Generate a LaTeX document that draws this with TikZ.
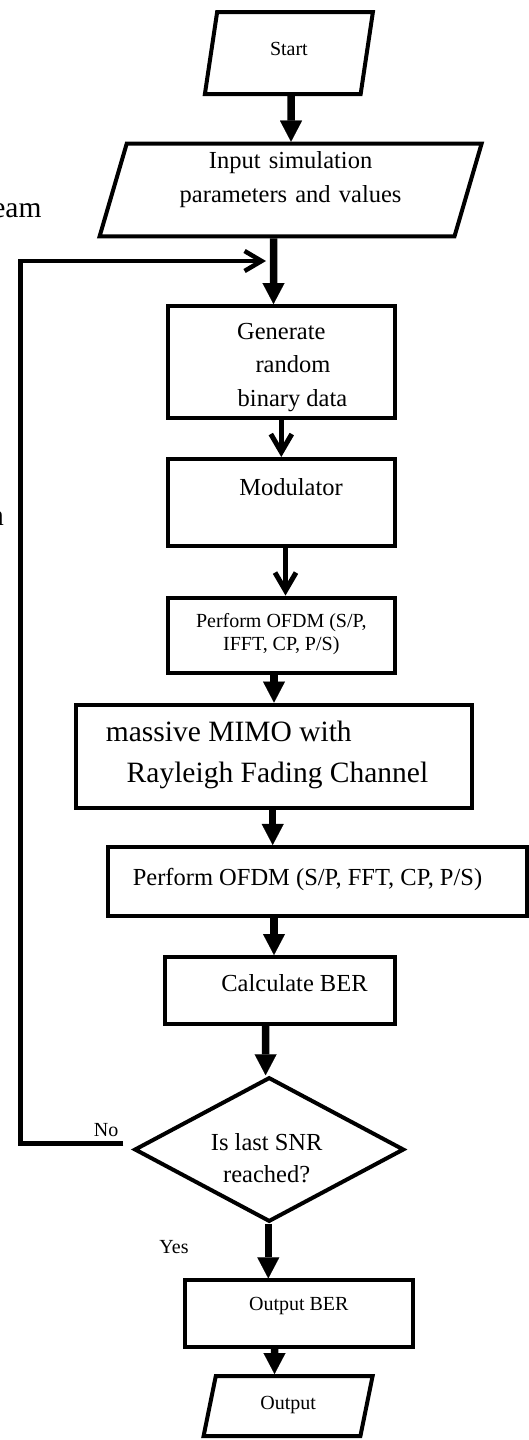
\documentclass[tikz,border=0pt]{standalone}
\usepackage{fontspec}
\setmainfont{Liberation Serif}
\usetikzlibrary{shapes.geometric, arrows.meta}

\tikzset{
  box/.style={draw, rectangle, line width=4pt, inner sep=0pt},
  io/.style={draw, trapezium, line width=4pt, inner sep=0pt, align=center},
  test/.style={draw, diamond, aspect=1.9, line width=4pt, inner sep=0pt},
  lift/.style={text height=0pt, text depth=#1},
  drop/.style={text height=#1, text depth=0pt},
  flow/.style={line width=7.5pt, -{Triangle[length=21pt, width=22pt, line width=0.1pt]}},
  barb/.style={line width=5pt, -{Straight Barb[length=18pt, width=21pt]}},
  loopline/.style={line width=4.5pt, -{Straight Barb[length=17pt, width=20pt]}},
  lbl/.style={inner sep=0pt, font=\fontsize{20}{24}\selectfont},
  frag/.style={inner sep=0pt, font=\fontsize{29.5}{36}\selectfont}
}

\begin{document}
\begin{tikzpicture}[x=1pt, y=-1pt, line join=miter]

    \useasboundingbox (0,0) rectangle (529,1440);

    % --- 1. input / output blocks (size set by the text box) ---
    \node[io, trapezium left angle=81.5, trapezium right angle=98.5, text width=143.5pt,
          text height=43.7pt, text depth=38.3pt, font=\fontsize{20}{24}\selectfont] (start) at (288.9,53) {Start};
    \node[io, trapezium left angle=73.7, trapezium right angle=106.3, text width=327.8pt,
          text height=24.6pt, text depth=68pt, font=\fontsize{24.5}{34}\selectfont] (input) at (290.6,190)
          {Input simulation\\parameters and values};

    % --- 2. processing chain ---
    \node[box, minimum width=226.7pt, minimum height=111.5pt, drop=88.4pt, align=center,
          font=\fontsize{24.5}{33.3}\selectfont] (gen) at (281.3,361.8)
          {Generate\\\hspace*{23.4pt}random\\\hspace*{22.4pt}binary data};
    \node[box, minimum width=226.7pt, minimum height=87pt, lift=13.6pt,
          font=\fontsize{24.5}{30}\selectfont] (mod) at (281.3,502.5) {\hspace*{19.4pt}Modulator};
    \node[box, minimum width=226.7pt, minimum height=75.5pt, drop=30.8pt, align=center,
          font=\fontsize{20}{23.4}\selectfont] (ofdm1) at (281.3,635.3) {Perform OFDM (S/P,\\IFFT, CP, P/S)};
    \node[box, minimum width=396pt, minimum height=103.5pt, drop=52.8pt, align=center,
          font=\fontsize{29.5}{41}\selectfont] (mimo) at (274,756.3)
          {massive MIMO with\hspace*{90.4pt}\\\hspace*{7pt}Rayleigh Fading Channel};
    \node[box, minimum width=419pt, minimum height=68.7pt, drop=7.4pt,
          font=\fontsize{24.5}{30}\selectfont] (ofdm2) at (317.5,881.3) {Perform OFDM (S/P, FFT, CP, P/S)\hspace*{20pt}};
    \node[box, minimum width=230pt, minimum height=67pt, drop=2.4pt,
          font=\fontsize{24.5}{30}\selectfont] (calc) at (280.3,990.5) {\hspace*{28.4pt}Calculate BER};

    % --- 3. decision and result ---
    \node[test, minimum width=269.7pt, minimum height=144.5pt, drop=65.6pt, align=center,
          font=\fontsize{24.5}{32.3}\selectfont] (dec) at (269.2,1149.5) {Is last SNR\hspace*{5pt}\\reached?\hspace*{5pt}};
    \node[box, minimum width=228.3pt, minimum height=66.7pt, lift=6pt,
          font=\fontsize{20}{24}\selectfont] (outber) at (298.8,1313.7) {Output BER};
    \node[io, trapezium left angle=78.5, trapezium right angle=101.5, text width=144.6pt,
          text height=33.3pt, text depth=26.7pt, font=\fontsize{20}{24}\selectfont] (output) at (288.1,1406) {Output};

    % cut-off words at the left edge
    \node[frag, anchor=base east] (eam) at (41.7,217) {eam};
    \node[frag, anchor=base east] (hcut) at (4,525) {h};

    % --- 4. connectors ---
    \foreach \a/\sa/\b/\sb in {start/2.1/input/0.4, input/-17.1/gen/-7.8, ofdm1/-7.3/mimo/0,
                               mimo/-1.3/ofdm2/-44.8, ofdm2/-43.5/calc/-6.3, calc/-14.7/dec/-3.6,
                               outber/-24.3/output/-13.6}
        \draw[flow] ([xshift=\sa pt]\a.south) -- ([xshift=\sb pt]\b.north);
    \foreach \a/\sa/\b/\sb in {gen/0/mod/0, mod/4.2/ofdm1/4.2}
        \draw[barb] ([xshift=\sa pt]\a.south) -- ([xshift=\sb pt]\b.north);

    \draw[flow] ([xshift=-0.9pt]dec.south) -- node[lbl, anchor=base east, xshift=-76pt, yshift=-2.1pt] {Yes}
        ([xshift=-30.5pt]outber.north);

    % loop back for the next SNR
    \coordinate (turn) at (20.5,261);
    \coordinate (join) at (266,261);
    \draw[loopline] ([xshift=-9.1pt, yshift=6pt]dec.west) node[lbl, anchor=base east, xshift=-2.6pt, yshift=6.8pt] {No}
        -| (turn) -- (join);

\end{tikzpicture}
\end{document}
